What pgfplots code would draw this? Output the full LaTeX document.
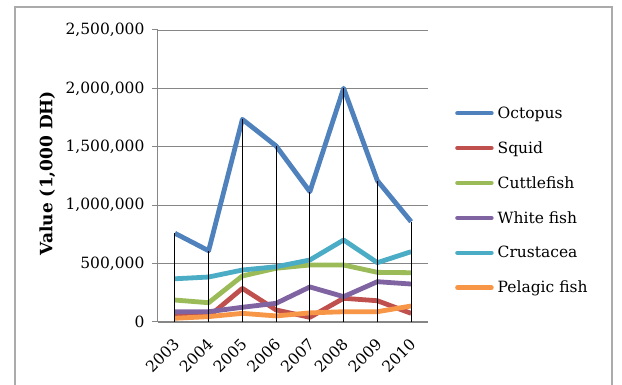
\documentclass[border=0pt]{standalone}
\usepackage{pgfplots}
\pgfplotsset{compat=1.18}
\usepackage{fontspec}
\setmainfont{DejaVu Serif}
\definecolor{cOct}{HTML}{4F81BD}
\definecolor{cSqu}{HTML}{C0504D}
\definecolor{cCut}{HTML}{9BBB59}
\definecolor{cWhi}{HTML}{8064A2}
\definecolor{cCru}{HTML}{4BACC6}
\definecolor{cPel}{HTML}{F79646}
\definecolor{cGrid}{HTML}{868686}
\definecolor{cFrame}{HTML}{ABABAB}
\begin{document}
\begin{tikzpicture}
\useasboundingbox (0pt,0pt) rectangle (622pt,385pt);
\clip (0pt,0pt) rectangle (622pt,385pt);
\fill[white] (0pt,0pt) rectangle (622pt,385pt);
\draw[cFrame, line width=1.2pt] (15pt,-10pt) rectangle (612pt,378pt);
\begin{axis}[
  at={(158pt,63pt)}, anchor=south west,
  scale only axis, width=270pt, height=292pt,
  xmin=-0.5, xmax=7.5, ymin=0, ymax=2500000,
  xtick={0,...,7}, xticklabels={2003,2004,2005,2006,2007,2008,2009,2010},
  ytick={0,500000,1000000,1500000,2000000,2500000},
  scaled y ticks=false,
  /pgf/number format/.cd, fixed, 1000 sep={,}, assume math mode=true, /pgfplots/.cd,
  axis x line*=bottom, axis y line*=left,
  axis line style={cGrid, line width=1pt, -},
  ymajorgrids, grid style={cGrid, line width=0.9pt},
  tick align=outside, major tick length=6pt,
  ytick style={cGrid, line width=1pt},
  xtick style={draw=none},
  tick label style={font=\fontsize{15.5}{17}\selectfont},
  yticklabel style={xshift=-4pt},
  xticklabel style={xshift=4pt, yshift=-11pt, rotate=45, anchor=east},
  ylabel={\textbf{Value (1,000 DH)}},
  ylabel style={font=\fontsize{17}{19}\selectfont, at={(axis description cs:-0.41,0.51)}, anchor=center, rotate=0},
  legend cell align=left,
  legend style={draw=none, fill=none, inner sep=0pt, at={(axis description cs:1.1,0.745)}, anchor=north west,
    font=\fontsize{15.5}{17}\selectfont, row sep=17.7pt, column sep=2pt},
  legend image code/.code={\draw[#1, line width=4.5pt, line cap=round] (2pt,0pt) -- (36pt,0pt);},
  every axis plot/.append style={line width=4.8pt, line join=round, no marks},
]
\addplot[cOct] coordinates {(0,760000) (1,610000) (2,1735000) (3,1507000) (4,1116000) (5,2001000) (6,1210000) (7,859000)};
\addlegendentry{Octopus}
\addplot[cSqu] coordinates {(0,50000) (1,46000) (2,288000) (3,103000) (4,40000) (5,203000) (6,182000) (7,74000)};
\addlegendentry{Squid}
\addplot[cCut] coordinates {(0,188000) (1,165000) (2,394000) (3,460000) (4,488000) (5,488000) (6,425000) (7,422000)};
\addlegendentry{Cuttlefish}
\addplot[cWhi] coordinates {(0,88000) (1,88000) (2,126000) (3,160000) (4,300000) (5,217000) (6,345000) (7,325000)};
\addlegendentry{White fish}
\addplot[cCru] coordinates {(0,370000) (1,385000) (2,445000) (3,473000) (4,531000) (5,702000) (6,508000) (7,602000)};
\addlegendentry{Crustacea}
\addplot[cPel] coordinates {(0,32000) (1,46000) (2,74000) (3,52000) (4,78000) (5,88000) (6,88000) (7,137000)};
\addlegendentry{Pelagic fish}
\addplot[black, line width=1.2pt, ycomb, forget plot] coordinates {(0,760000) (1,610000) (2,1735000) (3,1507000) (4,1116000) (5,2001000) (6,1210000) (7,859000)};
\end{axis}
\end{tikzpicture}
\end{document}
